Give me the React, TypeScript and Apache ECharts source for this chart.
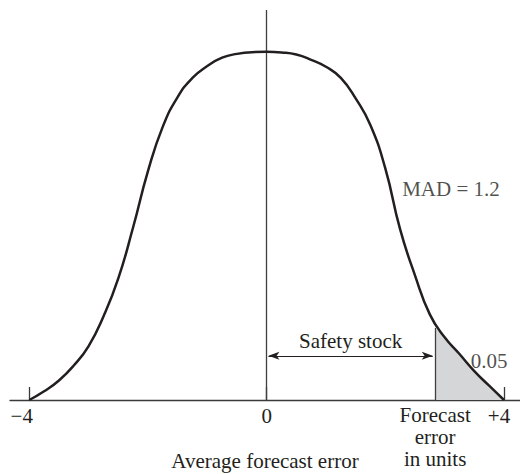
import React, { useEffect, useRef } from "react";
import * as echarts from "echarts";

// Forecast error (in units) and relative height of the distribution curve
const errorUnits = [-4, -3.75, -3.5, -3.25, -3, -2.75, -2.5, -2.25, -2, -1.75, -1.5, -1.25, -1, -0.75, -0.5, -0.25, 0,
  0.25, 0.5, 0.75, 1, 1.25, 1.5, 1.75, 2, 2.25, 2.5, 2.75, 3, 3.25, 3.5, 3.75, 4];
const curveHeight = [0, 0.025, 0.056, 0.099, 0.155, 0.24, 0.349, 0.496, 0.657, 0.785, 0.87, 0.925, 0.959, 0.983, 0.994, 0.999, 1.0,
  0.998, 0.992, 0.977, 0.957, 0.925, 0.866, 0.789, 0.665, 0.49, 0.358, 0.246, 0.18, 0.132, 0.083, 0.041, 0];

// Shaded tail (probability 0.05) beyond the safety-stock point
const tailUnits = [2.84, 3, 3.25, 3.5, 3.75, 4];
const tailHeight = [0.207, 0.18, 0.132, 0.083, 0.041, 0];

const forecastErrorPoint = 2.84;
const safetyStockLevel = 0.127;

const tickValues = [-4, 0, 4];
const tickLabels = ["\u22124", "0", "+4"];
const tickSpacers = [15, 0, 10];
const forecastLabel = "Forecast\nerror\nin units";
const axisName = "Average forecast error";
const safetyStockLabel = "Safety stock";

const annotationTexts = ["MAD = 1.2", "0.05"];
const annotationX = [3.106, 3.75];
const annotationY = [0.606, 0.112];

const FONT = "'Liberation Serif', 'Times New Roman', serif";
const INK = "#231f20";
const X_MIN = -4.325;
const X_MAX = 4.27;
const Y_MAX = 1.12;

export default function App() {
  const ref = useRef<HTMLDivElement>(null);
  useEffect(() => {
    if (!ref.current) return;
    const chart = echarts.init(ref.current, null, { renderer: "svg" });
    const labelRich: any = {
      t: { fontFamily: FONT, fontSize: 21, color: INK, lineHeight: 23 },
    };
    tickSpacers.forEach((w, i) => {
      labelRich["s" + i] = { width: w, fontSize: 21, lineHeight: 23 };
    });
    chart.setOption({
      animation: false,
      backgroundColor: "#ffffff",
      grid: { left: 10, right: 0, top: 10, bottom: 74, outerBoundsMode: "none", containLabel: false },
      xAxis: [
        {
          type: "value",
          min: X_MIN,
          max: X_MAX,
          splitLine: { show: false },
          axisLine: { show: true, onZero: false, lineStyle: { color: "#3a3a3a", width: 1.3 } },
          axisTick: { show: true, inside: true, length: 13, customValues: tickValues, lineStyle: { color: "#3a3a3a", width: 1.3 } },
          axisLabel: {
            show: true,
            customValues: tickValues,
            margin: 4,
            align: "center",
            formatter: (v: number) => {
              const i = tickValues.indexOf(v);
              if (i < 0) return "";
              return tickSpacers[i] > 0 ? `{t|${tickLabels[i]}}{s${i}| }` : `{t|${tickLabels[i]}}`;
            },
            rich: labelRich,
          },
          name: axisName,
          nameLocation: "middle",
          nameGap: 49,
          nameTextStyle: { fontFamily: FONT, fontSize: 21, color: INK, lineHeight: 23 },
        },
        {
          type: "value",
          min: X_MIN,
          max: X_MAX,
          position: "bottom",
          splitLine: { show: false },
          axisLine: { show: false },
          axisTick: { show: false },
          axisLabel: {
            show: true,
            customValues: [forecastErrorPoint],
            margin: 4,
            align: "center",
            fontFamily: FONT,
            fontSize: 21,
            color: INK,
            lineHeight: 22,
            formatter: () => forecastLabel,
          },
        },
      ],
      yAxis: { type: "value", min: 0, max: Y_MAX, show: false, splitLine: { show: false } },
      series: [
        {
          type: "line",
          xAxisIndex: 0,
          data: tailUnits.map((x, i) => [x, tailHeight[i]]),
          smooth: 0.5,
          symbol: "none",
          lineStyle: { width: 0 },
          areaStyle: { color: "#d5d6d8", opacity: 1 },
          z: 1,
        },
        {
          type: "line",
          xAxisIndex: 0,
          data: errorUnits.map((x, i) => [x, curveHeight[i]]),
          smooth: 0.5,
          symbol: "none",
          lineStyle: { color: INK, width: 2.5 },
          z: 5,
          markLine: {
            silent: true,
            symbol: ["none", "none"],
            label: { show: false },
            lineStyle: { color: "#3f3f3f", width: 1.3, type: "solid" },
            data: [
              [{ coord: [0, 0] }, { coord: [0, Y_MAX] }],
              [{ coord: [forecastErrorPoint, 0] }, { coord: [forecastErrorPoint, tailHeight[0]] }],
            ],
          },
        },
        {
          type: "line",
          xAxisIndex: 0,
          data: [],
          z: 4,
          markLine: {
            silent: true,
            symbol: ["arrow", "arrow"],
            symbolSize: [6, 11],
            label: {
              show: true,
              position: "middle",
              distance: 4,
              formatter: safetyStockLabel,
              fontFamily: FONT,
              fontSize: 21,
              color: INK,
            },
            lineStyle: { color: INK, width: 1.2, type: "solid" },
            itemStyle: { color: INK },
            data: [[{ coord: [0.03, safetyStockLevel] }, { coord: [forecastErrorPoint - 0.04, safetyStockLevel] }]],
          },
        },
        {
          type: "scatter",
          xAxisIndex: 0,
          symbolSize: 1,
          itemStyle: { color: "transparent" },
          data: annotationTexts.map((t, i) => ({ value: [annotationX[i], annotationY[i]], name: t })),
          label: {
            show: true,
            position: "inside",
            formatter: (p: any) => p.name,
            fontFamily: FONT,
            fontSize: 21,
            color: INK,
          },
          z: 6,
        },
      ],
    });
    return () => chart.dispose();
  }, []);
  return <div ref={ref} style={{ position: "absolute", left: 0, top: 0, width: 520, height: 474 }} />;
}
